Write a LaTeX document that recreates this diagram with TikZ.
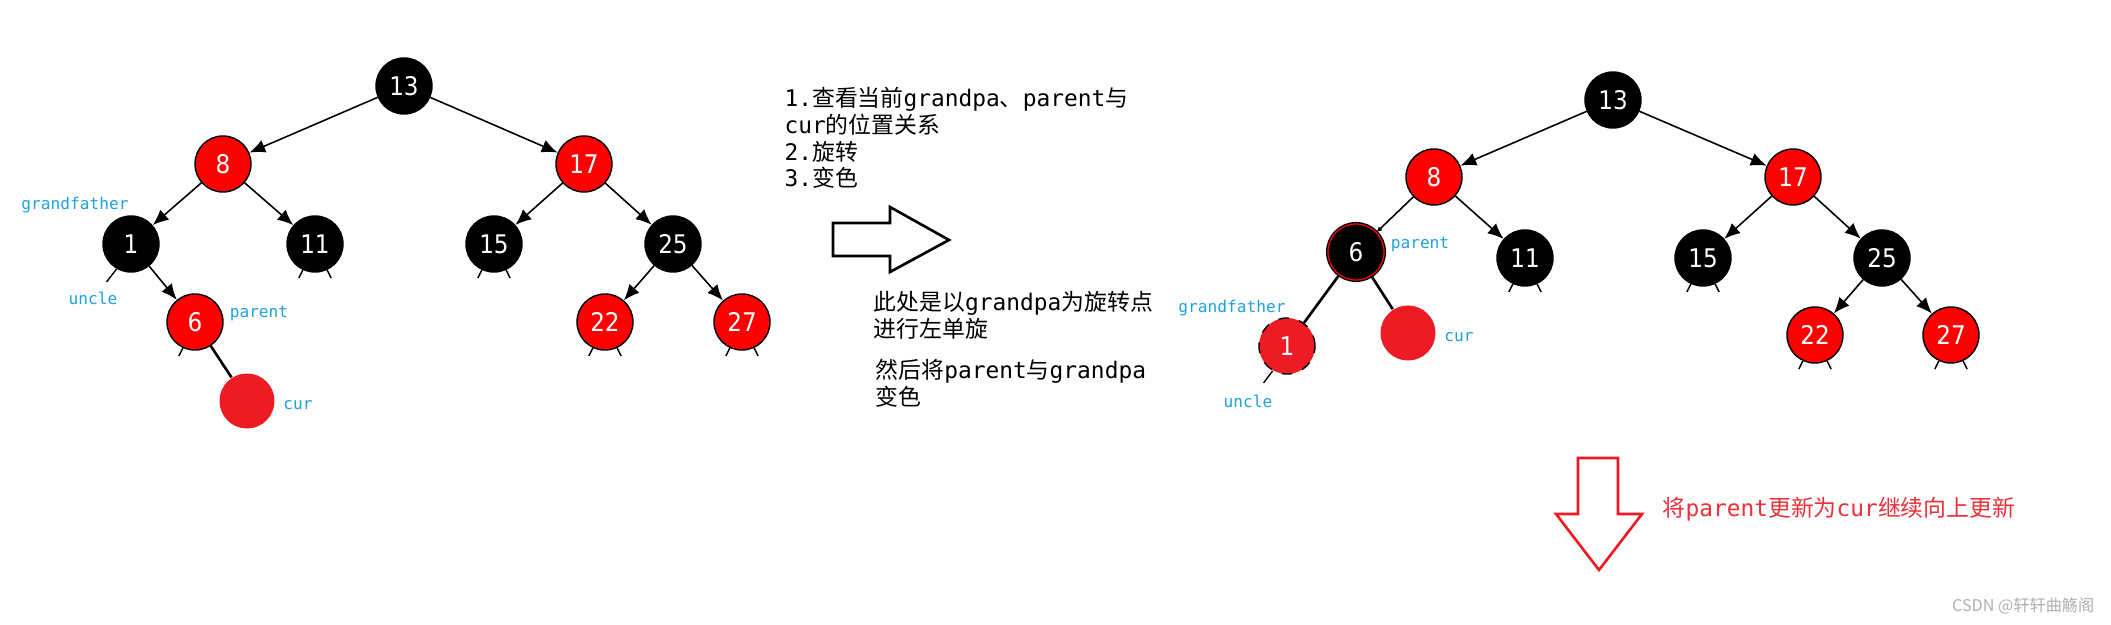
\documentclass[tikz,border=0pt]{standalone}
\usepackage{fontspec}
\setmainfont{DejaVu Sans}
\newfontfamily\cjkfont{Noto Sans CJK SC}
\newfontfamily\monofont{DejaVu Sans Mono}
\newfontfamily\numfont{DejaVu Sans Condensed}
\usetikzlibrary{arrows.meta}

\newcommand{\mtxt}[1]{{\monofont #1}}

\definecolor{rbred}{RGB}{255,0,0}
\definecolor{curred}{RGB}{237,28,36}
\definecolor{tagblue}{RGB}{30,160,225}
\definecolor{notered}{RGB}{236,48,58}
\definecolor{markgray}{RGB}{175,175,175}

\begin{document}
\begin{tikzpicture}[
    x=0.01cm, y=-0.01cm,
    bnode/.style={circle, draw=black, fill=black, text=white, minimum size=0.56cm, inner sep=0pt, font=\numfont\fontsize{7.3}{8}\selectfont},
    rnode/.style={bnode, fill=rbred},
    curnode/.style={circle, fill=curred, minimum size=0.55cm, inner sep=0pt},
    edge/.style={-{Latex[length=4.5pt, width=3.8pt]}, line width=0.45pt},
    smalledge/.style={-{Latex[length=1.5pt, width=1.5pt]}, line width=0.45pt},
    thickedge/.style={line width=0.75pt},
    nil/.style={line width=0.4pt},
    tag/.style={text=tagblue, font=\monofont\fontsize{4.6}{5}\selectfont},
    note/.style={align=left, anchor=west, inner sep=0pt, font=\cjkfont\fontsize{6.5}{7.6}\selectfont},
    hollow/.style={line width=0.75pt, line join=miter}
]
\useasboundingbox (0,0) rectangle (2111,625);

% Left tree (before rotation)
\node[bnode] (l13) at (404,86) {13};
\node[rnode] (l8) at (223,164) {8};
\node[rnode] (l17) at (584,164) {17};
\node[bnode] (l1) at (131,244) {1};
\node[bnode] (l11) at (315,244) {11};
\node[bnode] (l15) at (494,244) {15};
\node[bnode] (l25) at (673,244) {25};
\node[rnode] (l6) at (195,322) {6};
\node[rnode] (l22) at (605,322) {22};
\node[rnode] (l27) at (742,322) {27};
\node[curnode] (lcur) at (247,401) {};

\draw[edge] (l13) -- (l8);
\draw[edge] (l13) -- (l17);
\draw[edge] (l8) -- (l1);
\draw[edge] (l8) -- (l11);
\draw[edge] (l17) -- (l15);
\draw[edge] (l17) -- (l25);
\draw[edge] (l1) -- (l6);
\draw[edge] (l25) -- (l22);
\draw[edge] (l25) -- (l27);
\draw[thickedge] (l6) -- (lcur);

% nil stubs
\draw[nil] (l1.240) -- ++(-10,13);
\foreach \n in {l11, l15, l22, l27} {
    \draw[nil] (\n.245) -- ++(-4,8);
    \draw[nil] (\n.295) -- ++(4,8);
}
\draw[nil] (l6.245) -- ++(-4,8);

\node[tag] (lgf) at (75,205) {grandfather};
\node[tag] (lun) at (93,298) {uncle};
\node[tag] (lpa) at (259,314) {parent};
\node[tag] (lcu) at (298,405) {cur};

% Steps text
\node[note] (steps) at (784,138) {\mtxt{1.}查看当前\mtxt{grandpa}、\mtxt{parent}与\\\mtxt{cur}的位置关系\\\mtxt{2.}旋转\\\mtxt{3.}变色};

% Hollow arrow to the right
\draw[hollow] (833,223) -- (890,223) -- (890,207) -- (949,240) -- (890,272) -- (890,256) -- (833,256) -- cycle;

\node[note] (rot) at (873,315) {此处是以\mtxt{grandpa}为旋转点\\进行左单旋};
\node[note] (recolor) at (875,383) {然后将\mtxt{parent}与\mtxt{grandpa}\\变色};

% Right tree (after rotation)
\node[bnode] (r13) at (1613,100) {13};
\node[rnode] (r8) at (1434,177) {8};
\node[rnode] (r17) at (1793,177) {17};
\node[bnode, double=rbred, double distance=0.35pt] (r6) at (1356,252) {6};
\node[bnode] (r11) at (1525,258) {11};
\node[bnode] (r15) at (1703,258) {15};
\node[bnode] (r25) at (1882,258) {25};
\node[rnode, fill=curred, dashed] (r1) at (1287,346) {1};
\node[curnode] (rcur) at (1408,333) {};
\node[rnode] (r22) at (1815,335) {22};
\node[rnode] (r27) at (1951,335) {27};

\draw[edge] (r13) -- (r8);
\draw[edge] (r13) -- (r17);
\draw[smalledge] (r8) -- (r6);
\draw[edge] (r8) -- (r11);
\draw[edge] (r17) -- (r15);
\draw[edge] (r17) -- (r25);
\draw[edge] (r25) -- (r22);
\draw[edge] (r25) -- (r27);
\draw[thickedge] (r6) -- (r1);
\draw[thickedge] (r6) -- (rcur);

\draw[nil] (r1.240) -- ++(-9,12);
\foreach \n in {r11, r15, r22, r27} {
    \draw[nil] (\n.245) -- ++(-4,8);
    \draw[nil] (\n.295) -- ++(4,8);
}

\node[tag] (rpa) at (1420,245) {parent};
\node[tag] (rgf) at (1232,308) {grandfather};
\node[tag] (rcu) at (1459,337) {cur};
\node[tag] (run) at (1248,401) {uncle};

% Red arrow down
\draw[hollow, draw=curred] (1578,458) -- (1618,458) -- (1618,514) -- (1642,514) -- (1599,570) -- (1556,514) -- (1578,514) -- cycle;
\node[note, text=notered] (next) at (1662,509) {将\mtxt{parent}更新为\mtxt{cur}继续向上更新};

\node[anchor=east, inner sep=0pt, text=markgray, font=\cjkfont\fontsize{4.6}{6}\selectfont] (mark) at (2095,606) {CSDN @轩轩曲觞阁};

\end{tikzpicture}
\end{document}
